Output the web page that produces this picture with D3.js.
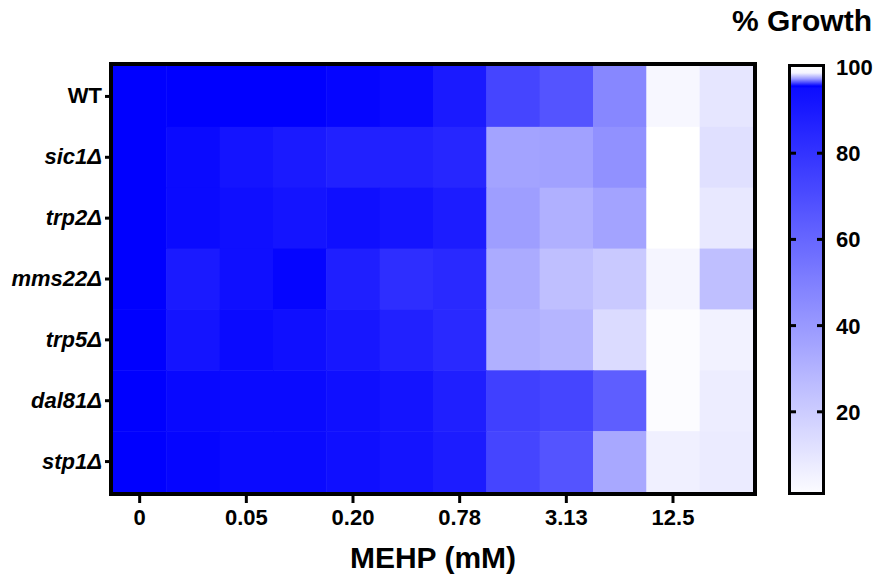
<!DOCTYPE html>
<html>
<head>
<meta charset="utf-8">
<script src="https://cdn.jsdelivr.net/npm/d3@7"></script>
<style>
  body { margin: 0; background: #fff; }
  svg text { font-family: "Liberation Sans", Arial, sans-serif; font-weight: bold; fill: #000; }
</style>
</head>
<body>
<div id="chart"></div>
<script>
// Strains (rows) and MEHP concentrations (columns)
const strains = ["WT", "sic1Δ", "trp2Δ", "mms22Δ", "trp5Δ", "dal81Δ", "stp1Δ"];
const concentrations = ["0", "0.025", "0.05", "0.10", "0.20", "0.39", "0.78", "1.56", "3.13", "6.25", "12.5", "25"];
const shownTicks = ["0", "0.05", "0.20", "0.78", "3.13", "12.5"];

// % growth per strain
const growthWT     = [100, 100, 100, 100, 98, 96, 90, 73, 67, 47, 3, 10];
const growthSic1   = [100, 96, 92, 90, 87, 87, 85, 36, 37, 43, 0, 12];
const growthTrp2   = [100, 96, 94, 92, 94, 92, 89, 38, 31, 36, 0, 9];
const growthMms22  = [100, 90, 94, 98, 88, 82, 84, 33, 25, 21, 4, 25];
const growthTrp5   = [100, 92, 96, 94, 91, 87, 84, 31, 29, 14, 1, 5];
const growthDal81  = [100, 97, 96, 96, 94, 92, 88, 75, 73, 63, 1, 7];
const growthStp1   = [100, 98, 96, 96, 94, 92, 89, 73, 67, 34, 6, 8];
const growthRows = [growthWT, growthSic1, growthTrp2, growthMms22, growthTrp5, growthDal81, growthStp1];

const legendTicks = [20, 40, 60, 80, 100];

const cells = [];
strains.forEach((s, i) => {
    growthRows[i].forEach((v, j) => {
        cells.push({ strain: s, conc: concentrations[j], value: v });
    });
});

const W = 880, H = 581;
const plot = { left: 113, top: 66, right: 753, bottom: 492 };

const svg = d3.select('#chart')
    .append('svg')
    .attr('width', W)
    .attr('height', H);

const x = d3.scaleBand()
    .domain(concentrations)
    .range([plot.left, plot.right]);

const y = d3.scaleBand()
    .domain(strains)
    .range([plot.top, plot.bottom]);

const color = d3.scaleLinear()
    .domain([0, 100])
    .range(["#ffffff", "#0000ff"]);

// heat cells
svg.append('g')
    .selectAll('rect')
    .data(cells)
    .join('rect')
    .attr('x', d => x(d.conc))
    .attr('y', d => y(d.strain))
    .attr('width', x.bandwidth() + 0.5)
    .attr('height', y.bandwidth() + 0.5)
    .attr('fill', d => color(d.value));

// frame
svg.append('rect')
    .attr('x', plot.left - 2)
    .attr('y', plot.top - 2)
    .attr('width', plot.right - plot.left + 4)
    .attr('height', plot.bottom - plot.top + 4)
    .attr('fill', 'none')
    .attr('stroke', '#000')
    .attr('stroke-width', 4);

// x axis
const xAxis = svg.append('g')
    .attr('transform', `translate(0, ${plot.bottom + 4})`)
    .call(d3.axisBottom(x).tickValues(shownTicks).tickSize(7).tickSizeOuter(0).tickPadding(6));
xAxis.select('.domain').remove();
xAxis.selectAll('line').attr('stroke', '#000').attr('stroke-width', 3);
xAxis.selectAll('text')
    .attr('font-size', 22)
    .attr('fill', '#000');

svg.append('text')
    .attr('x', (plot.left + plot.right) / 2)
    .attr('y', 568)
    .attr('text-anchor', 'middle')
    .attr('font-size', 30)
    .text('MEHP (mM)');

// y axis
const yAxis = svg.append('g')
    .attr('transform', `translate(${plot.left - 4}, 0)`)
    .call(d3.axisLeft(y).tickSize(4).tickSizeOuter(0).tickPadding(3));
yAxis.select('.domain').remove();
yAxis.selectAll('line').attr('stroke', '#000').attr('stroke-width', 3);
yAxis.selectAll('text')
    .attr('font-size', 22)
    .attr('fill', '#000')
    .attr('font-style', d => d === 'WT' ? 'normal' : 'italic');

// colour legend
const lg = { left: 791, right: 822, top: 67, bottom: 492 };
const ly = d3.scaleLinear().domain([0, 100]).range([498, 67]);
const lowVal = ly.invert(lg.bottom);

const defs = svg.append('defs');
const grad = defs.append('linearGradient')
    .attr('id', 'growthGrad')
    .attr('x1', 0).attr('x2', 0).attr('y1', 1).attr('y2', 0);
const gStops = d3.range(0, 1.0001, 0.05).map(t => {
    const v = lowVal + t * (100 - lowVal);
    return { off: (ly(v) - lg.bottom) / (lg.top - lg.bottom), c: color(v) };
});
gStops.forEach(s => {
    grad.append('stop').attr('offset', Math.min(s.off, 0.955)).attr('stop-color', s.c);
});
grad.append('stop').attr('offset', 0.972).attr('stop-color', '#9a9aff');
grad.append('stop').attr('offset', 0.986).attr('stop-color', '#f4f4ff');
grad.append('stop').attr('offset', 1).attr('stop-color', '#ffffff');

svg.append('rect')
    .attr('x', lg.left)
    .attr('y', lg.top)
    .attr('width', lg.right - lg.left)
    .attr('height', lg.bottom - lg.top)
    .attr('fill', 'url(#growthGrad)');

// small inner ticks on both sides of the bar
const innerTicks = legendTicks.filter(t => t < 100);
svg.append('g')
    .selectAll('line.l')
    .data(innerTicks)
    .join('line')
    .attr('x1', lg.left).attr('x2', lg.left + 5)
    .attr('y1', d => ly(d)).attr('y2', d => ly(d))
    .attr('stroke', '#000').attr('stroke-width', 3);
svg.append('g')
    .selectAll('line.r')
    .data(innerTicks)
    .join('line')
    .attr('x1', lg.right - 5).attr('x2', lg.right)
    .attr('y1', d => ly(d)).attr('y2', d => ly(d))
    .attr('stroke', '#000').attr('stroke-width', 3);

svg.append('rect')
    .attr('x', lg.left - 1.5)
    .attr('y', lg.top - 1.5)
    .attr('width', lg.right - lg.left + 3)
    .attr('height', lg.bottom - lg.top + 3)
    .attr('fill', 'none')
    .attr('stroke', '#000')
    .attr('stroke-width', 3);

svg.append('g')
    .selectAll('text')
    .data(legendTicks)
    .join('text')
    .attr('x', 836)
    .attr('y', d => ly(d))
    .attr('dy', '0.36em')
    .attr('font-size', 22)
    .text(d => d);

svg.append('text')
    .attr('x', 872)
    .attr('y', 31)
    .attr('text-anchor', 'end')
    .attr('font-size', 30)
    .text('% Growth');
</script>
</body>
</html>
